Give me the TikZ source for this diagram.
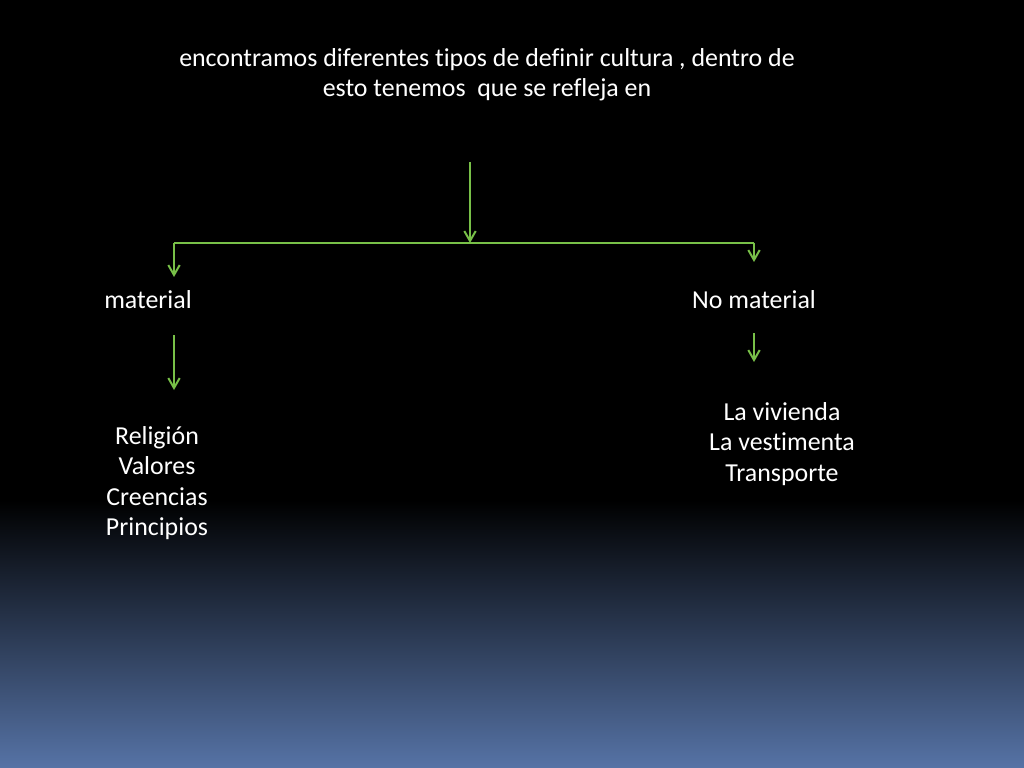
\documentclass[tikz,border=0pt]{standalone}
\usepackage{fontspec}
\setmainfont[Ligatures=NoCommon]{Carlito}
\usetikzlibrary{arrows.meta}
\definecolor{flecha}{RGB}{120,192,72}
\definecolor{fondoazul}{RGB}{86,115,166}
\tikzset{
	texto/.style={text=white, align=center, inner sep=0pt, font=\fontsize{18.2}{21.3}\selectfont},
	conector/.style={draw=flecha, line width=1.4pt, -{Straight Barb[length=7pt, width=8pt]}}
}
\begin{document}
\begin{tikzpicture}[x=0.703125pt, y=-0.703125pt]
		\useasboundingbox(0, 0)rectangle(1024, 768);
		% fondo
		\fill[black](0, 0)rectangle(1024, 500);
		\shade[top color=black, bottom color=fondoazul](0, 500)rectangle(1024, 768);
		\node[texto](titulo) at (487, 75){encontramos diferentes tipos de definir cultura , dentro de\\esto tenemos\ \ que se refleja en};
		\node[texto](material) at (148, 300){material};
		\node[texto](nomaterial) at (754, 300){No material};
		\node[texto](listamat) at (157, 483){Religión\\Valores\\Creencias\\Principios};
		\node[texto](listanomat) at (782, 444){La vivienda\\La vestimenta\\Transporte};
		\coordinate(inicio) at (470, 162);
		\coordinate(cruce) at (470, 243);
		\coordinate(izq) at (174, 243);
		\coordinate(der) at (754, 243);
		\draw[conector](inicio)--(cruce);
		\draw[conector, -](izq)--(der);
		\draw[conector](izq)--(174, 277);
		\draw[conector](der)--(754, 262);
		\draw[conector](174, 335)--(174, 390);
		\draw[conector](754, 333)--(754, 362);
	\end{tikzpicture}
\end{document}
